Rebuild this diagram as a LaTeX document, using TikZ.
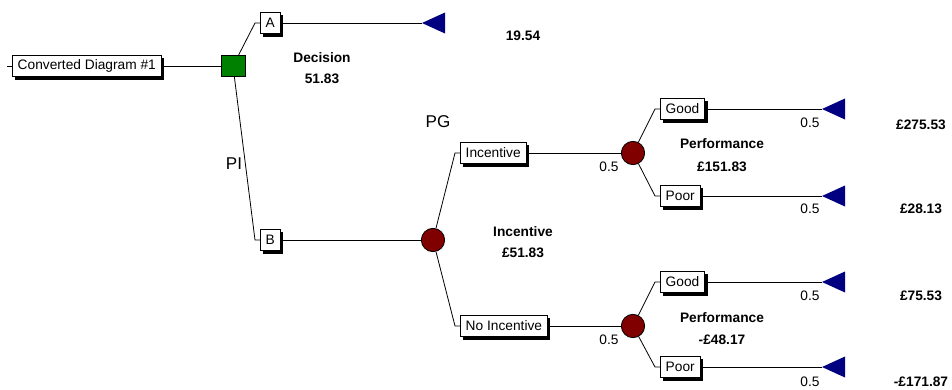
\documentclass[tikz,border=0pt]{standalone}
\usepackage{fontspec}
\setmainfont{Liberation Sans}
\usetikzlibrary{shadows}
\definecolor{decgreen}{RGB}{0,128,0}
\definecolor{chancered}{RGB}{128,0,0}
\definecolor{payblue}{RGB}{0,0,128}

\begin{document}
\begin{tikzpicture}[x=0.75pt,y=-0.75pt,line width=0.6pt,
  box/.style={draw,fill=white,inner xsep=4pt,inner ysep=0pt,minimum height=16pt,anchor=west,font=\fontsize{10.3}{12}\selectfont,drop shadow={shadow xshift=2.2pt,shadow yshift=-2.2pt,fill=black,opacity=1}},
  decision/.style={draw,fill=decgreen,minimum width=18pt,minimum height=16pt,inner sep=0pt},
  chance/.style={circle,draw,fill=chancered,minimum size=17.5pt,inner sep=0pt},
  val/.style={font=\fontsize{10.3}{12}\selectfont\bfseries},
  prob/.style={font=\fontsize{10.3}{12}\selectfont},
  big/.style={font=\fontsize{12.8}{15}\selectfont}]
\useasboundingbox (0,0) rectangle (952,389);

\coordinate (start) at (7,66);
\node[box] at (12,66) (root) {Converted Diagram \#1};
\node[decision] at (233,66) (dec) {};
\node[box] at (260,23) (a) {A};
\node[box] at (260,240) (b) {B};
\node[chance] at (433,240) (c1) {};
\node[box] at (460,153) (inc) {Incentive};
\node[box] at (460,326) (noinc) {No Incentive};
\node[chance] at (633,153) (c2) {};
\node[chance] at (633,326) (c3) {};
\node[box] at (660,109) (g1) {Good};
\node[box] at (660,196) (p1) {Poor};
\node[box] at (660,282) (g2) {Good};
\node[box] at (660,367) (p2) {Poor};

% end points
\foreach \n/\x/\y in {ta/422/23,t1/822/109,t2/822/196,t3/822/282,t4/822/367}{
  \coordinate (\n) at (\x,\y);
  \fill[payblue] (\n) -- ++(23,-10.5) -- ++(0,21) -- cycle;
}

% texts
\node[val] at (322,58) (ldec) {Decision};
\node[val] at (322,79) (vdec) {51.83};
\node[val] at (523,36) (va) {19.54};
\node[big] at (438,122) (pg) {PG};
\node[big] at (234,164) (pi) {PI};
\node[val] at (523,232) (lc1) {Incentive};
\node[val] at (523,253) (vc1) {£51.83};
\node[val] at (722,144) (lc2) {Performance};
\node[val] at (722,167) (vc2) {£151.83};
\node[val] at (722,318) (lc3) {Performance};
\node[val] at (722,340) (vc3) {-£48.17};
\node[prob] at (609,167) (pinc) {0.5};
\node[prob] at (609,340) (pnoinc) {0.5};
\node[prob] at (810,123) (pg1) {0.5};
\node[prob] at (810,209) (pp1) {0.5};
\node[prob] at (810,296) (pg2) {0.5};
\node[prob] at (810,382) (pp2) {0.5};
\node[val] at (921,125) (v1) {£275.53};
\node[val] at (921,209) (v2) {£28.13};
\node[val] at (921,296) (v3) {£75.53};
\node[val] at (921,382) (v4) {-£171.87};

\draw (start) -- (root);
\draw (root) -- (dec);
\draw (dec) -- ([xshift=-3.75pt]a.west) -- (a.west);
\draw (dec) -- ([xshift=-3.75pt]b.west) -- (b.west);
\draw (a) -- (ta);
\draw (b) -- (c1);
\draw (c1) -- ([xshift=-3.75pt]inc.west) -- (inc.west);
\draw (c1) -- ([xshift=-3.75pt]noinc.west) -- (noinc.west);
\draw (inc) -- (c2);
\draw (noinc) -- (c3);
\draw (c2) -- ([xshift=-3.75pt]g1.west) -- (g1.west);
\draw (c2) -- ([xshift=-3.75pt]p1.west) -- (p1.west);
\draw (c3) -- ([xshift=-3.75pt]g2.west) -- (g2.west);
\draw (c3) -- ([xshift=-3.75pt]p2.west) -- (p2.west);
\draw (g1) -- (t1);
\draw (p1) -- (t2);
\draw (g2) -- (t3);
\draw (p2) -- (t4);
\end{tikzpicture}
\end{document}
